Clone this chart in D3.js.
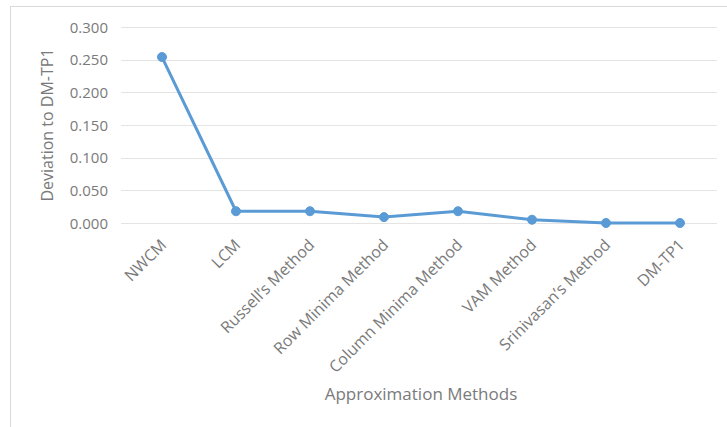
<!DOCTYPE html>
<html>
<head>
<meta charset="utf-8">
<script src="https://cdn.jsdelivr.net/npm/d3@7"></script>
<style>
  html, body { margin: 0; padding: 0; background: #fff; }
  svg { display: block; }
  text { font-family: "Open Sans", Lato, sans-serif; fill: #7a7a7a; }
</style>
</head>
<body>
<script>
const categories = ["NWCM", "LCM", "Russell\u2019s Method", "Row Minima Method", "Column Minima Method", "VAM Method", "Srinivasan\u2019s Method", "DM-TP1"];
const deviations = [0.254, 0.018, 0.018, 0.009, 0.018, 0.005, 0.000, 0.000];
const yTicks = [0, 0.05, 0.10, 0.15, 0.20, 0.25, 0.30];
const yTitle = "Deviation to DM-TP1";
const xTitle = "Approximation Methods";

const W = 727, H = 427;
const svg = d3.select("body").append("svg").attr("width", W).attr("height", H);

// chart frame
svg.append("rect").attr("x", 10.5).attr("y", 6.5).attr("width", W + 10).attr("height", H + 10)
  .attr("fill", "#fff").attr("stroke", "#d9d9d9").attr("stroke-width", 1);

const plotLeft = 121, plotRight = 717;
const y = d3.scaleLinear().domain([0, 0.3]).range([223, 27]);
const x = d3.scalePoint().domain(categories).range([162, 680]);

// gridlines
svg.append("g").selectAll("line").data(yTicks).join("line")
  .attr("x1", plotLeft).attr("x2", plotRight)
  .attr("y1", d => Math.round(y(d)) + 0.5).attr("y2", d => Math.round(y(d)) + 0.5)
  .attr("stroke", "#e4e4e4").attr("stroke-width", 1);

// y axis labels
const yAxis = d3.axisLeft(y).tickValues(yTicks).tickFormat(d3.format(".3f")).tickSize(0).tickPadding(0);
const yg = svg.append("g").attr("transform", "translate(108,0)").call(yAxis);
yg.select(".domain").remove();
yg.selectAll("text").style("font-size", "15px").attr("fill", "#7a7a7a").attr("dy", "0.35em");

// x axis labels
const xAxis = d3.axisBottom(x).tickSize(0).tickPadding(0);
const xg = svg.append("g").attr("transform", "translate(0,242)").call(xAxis);
xg.select(".domain").remove();
xg.selectAll("text")
  .style("font-size", "16px").attr("fill", "#7a7a7a")
  .attr("text-anchor", "end")
  .attr("dy", "0.35em").attr("y", 0)
  .attr("transform", "translate(1,0) rotate(-45)");

// axis titles
svg.append("text").attr("transform", "translate(47,125) rotate(-90)")
  .attr("text-anchor", "middle").attr("dy", "0.35em")
  .style("font-size", "16px").text(yTitle);
svg.append("text").attr("x", 421).attr("y", 400)
  .attr("text-anchor", "middle")
  .style("font-size", "17px").text(xTitle);

// line
const line = d3.line().x((d, i) => x(categories[i])).y(d => y(d));
svg.append("path").datum(deviations).attr("d", line)
  .attr("fill", "none").attr("stroke", "#5b9bd5").attr("stroke-width", 3)
  .attr("stroke-linejoin", "round").attr("stroke-linecap", "round");

svg.append("g").selectAll("circle").data(deviations).join("circle")
  .attr("cx", (d, i) => x(categories[i])).attr("cy", d => y(d))
  .attr("r", 4.5).attr("fill", "#5b9bd5").attr("stroke", "#5b9bd5").attr("stroke-width", 1);
</script>
</body>
</html>
